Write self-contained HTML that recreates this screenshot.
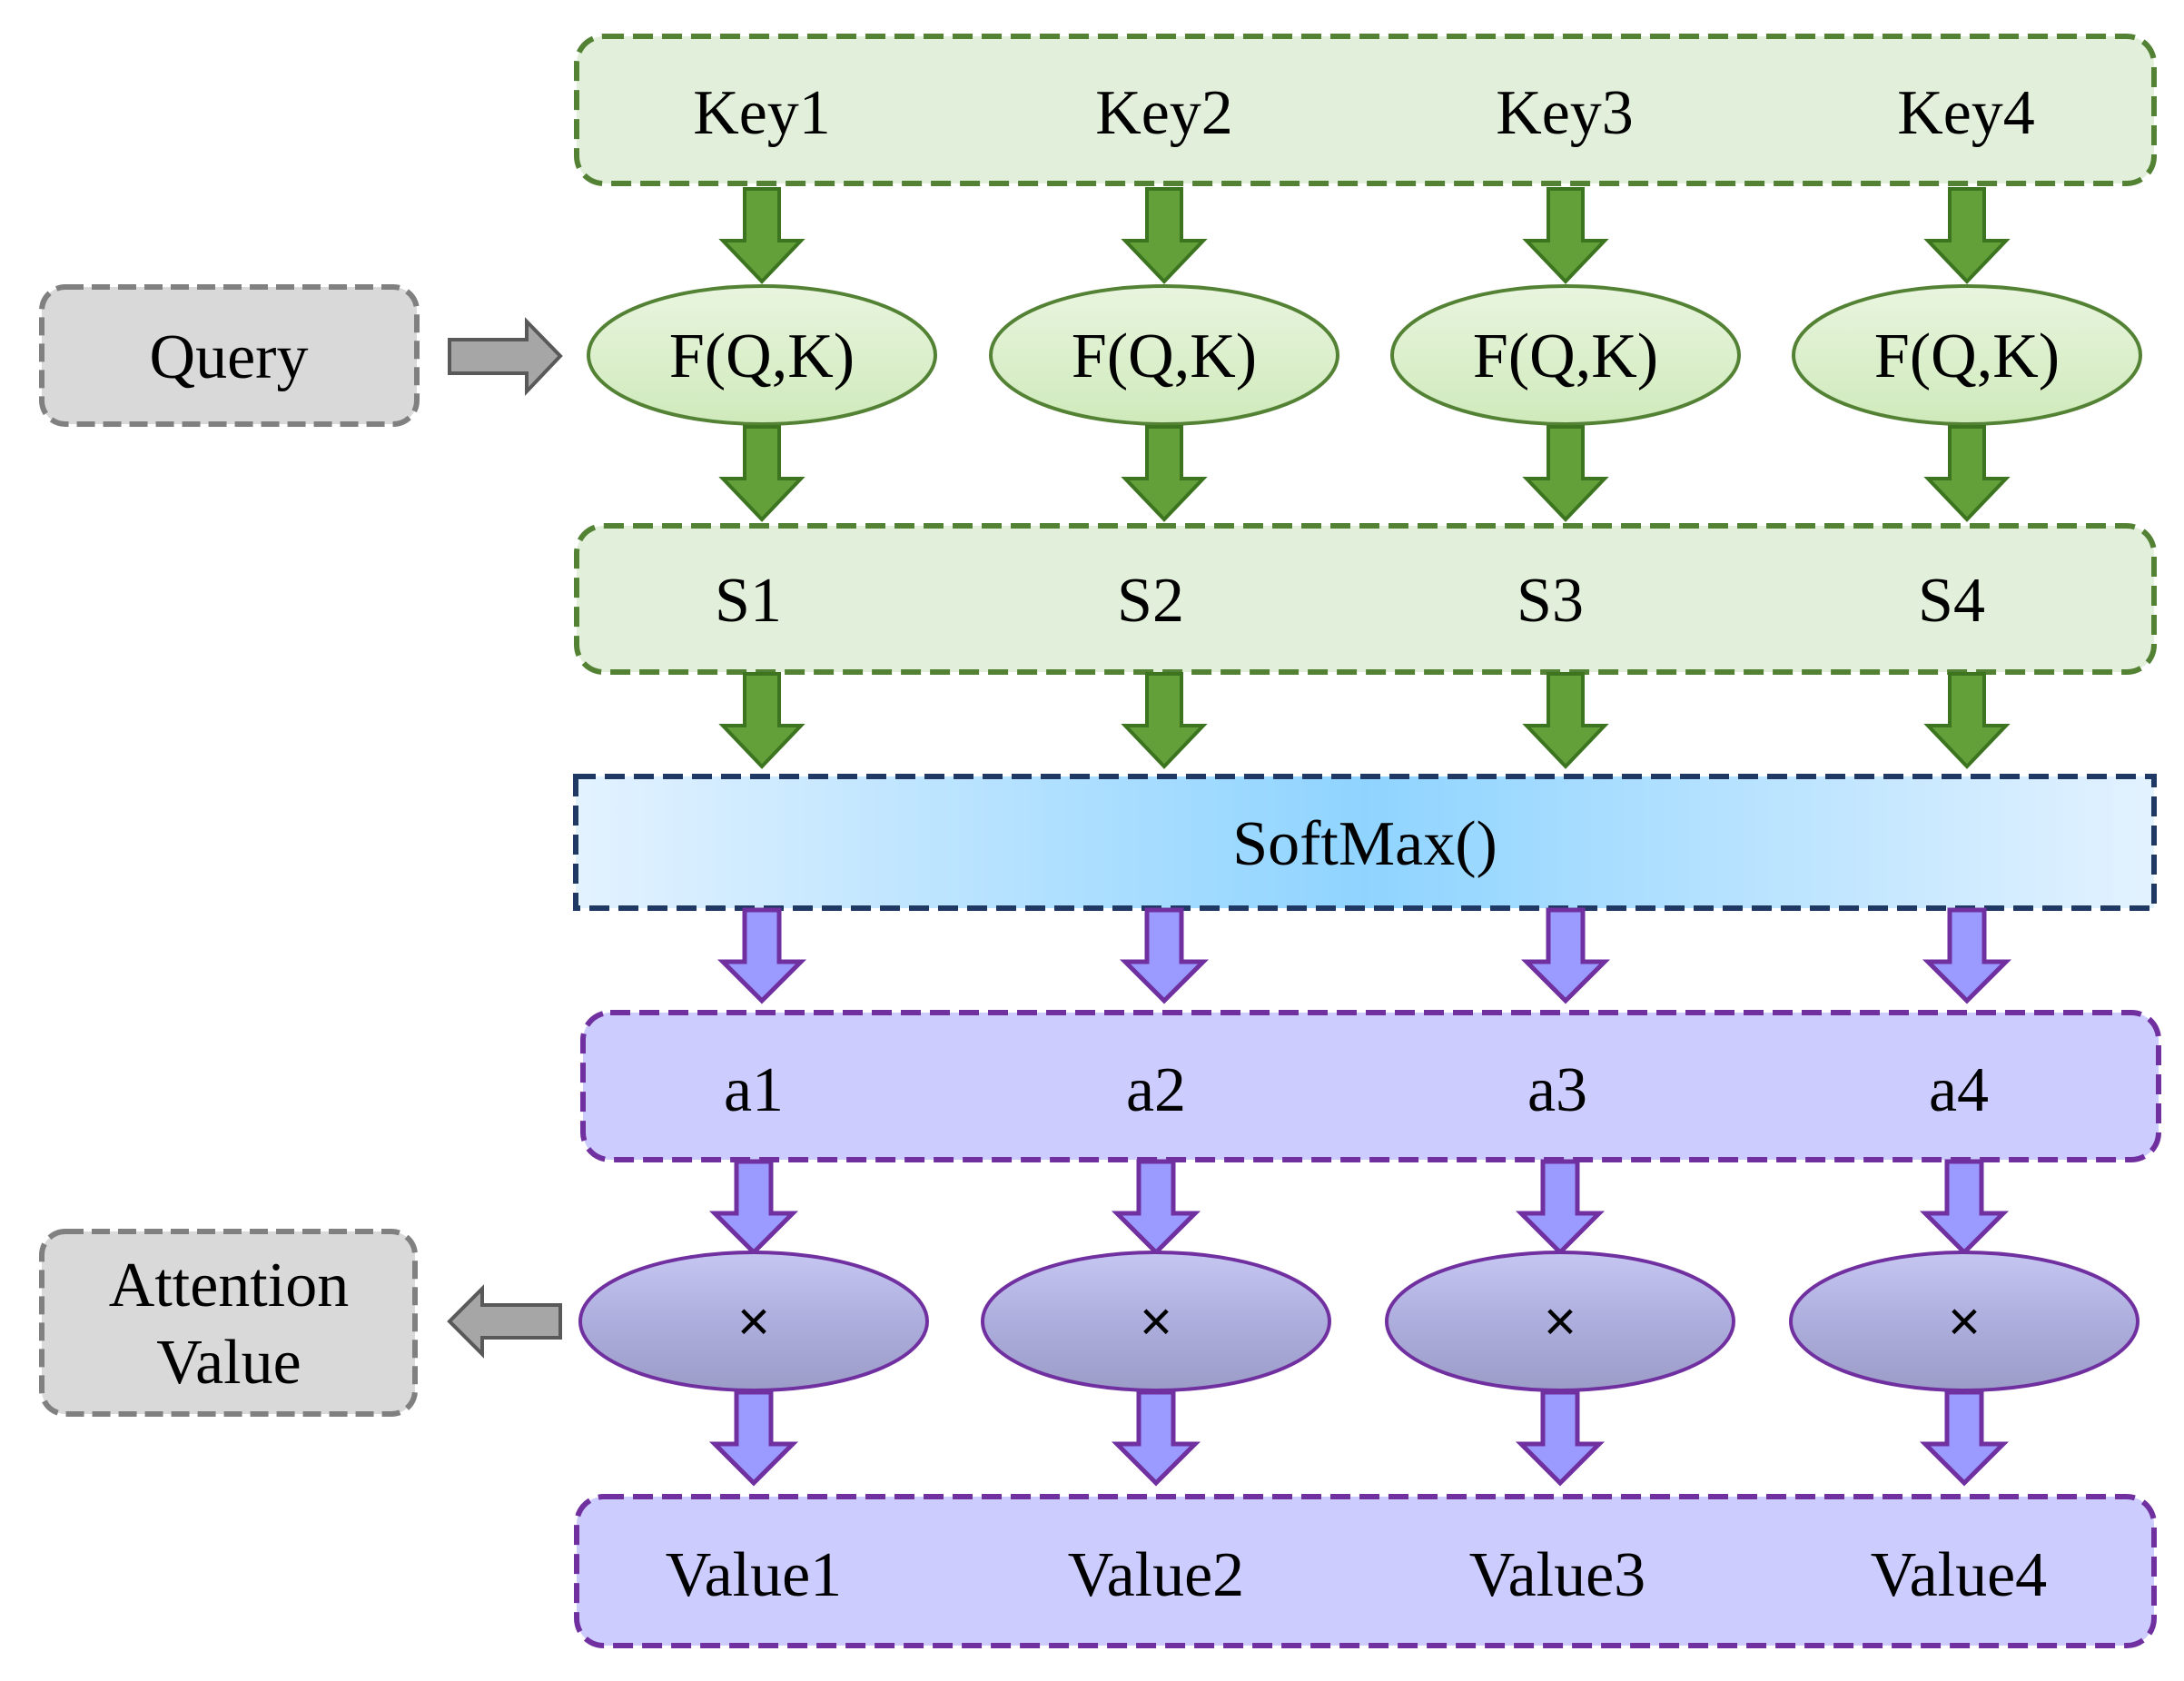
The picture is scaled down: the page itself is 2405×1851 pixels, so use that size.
<!DOCTYPE html>
<html><head><meta charset="utf-8"><style>html,body{margin:0;padding:0;background:#fff}svg{display:block}</style></head>
<body>
<svg width="2405" height="1851" viewBox="0 0 2405 1851" xmlns="http://www.w3.org/2000/svg" font-family="'Liberation Serif', serif" fill="#000">
<defs>
<linearGradient id="sm" x1="0" x2="1" y1="0" y2="0">
<stop offset="0" stop-color="#e3f2ff"/><stop offset="0.5" stop-color="#8fd4ff"/><stop offset="1" stop-color="#e3f2ff"/>
</linearGradient>
<linearGradient id="fe" x1="0" x2="0" y1="0" y2="1">
<stop offset="0" stop-color="#e9f5df"/><stop offset="1" stop-color="#cfeabb"/>
</linearGradient>
<linearGradient id="xe" x1="0" x2="0" y1="0" y2="1">
<stop offset="0" stop-color="#c6c6f2"/><stop offset="0.5" stop-color="#aeaede"/><stop offset="1" stop-color="#9c9cc8"/>
</linearGradient>
<g id="ga"><polygon points="-19,0 19,0 19,57 43,57 0,102 -43,57 -19,57" fill="#63a03a" stroke="#3c7420" stroke-width="4"/></g>
<g id="pa"><polygon points="-19,0 19,0 19,57 43,57 0,100 -43,57 -19,57" fill="#9a9aff" stroke="#7030a0" stroke-width="5"/></g>
</defs>

<rect x="635" y="40" width="1737" height="162" rx="30" fill="#e2efda" stroke="#548235" stroke-width="6" stroke-dasharray="22,10"/>
<g font-size="70" text-anchor="middle">
<text x="839" y="147">Key1</text><text x="1282" y="147">Key2</text><text x="1723" y="147">Key3</text><text x="2165" y="147">Key4</text>
</g>

<rect x="46" y="316" width="413" height="151" rx="26" fill="#d9d9d9" stroke="#808080" stroke-width="6" stroke-dasharray="20,9"/>
<text x="252" y="416" font-size="70" text-anchor="middle">Query</text>
<polygon points="495,374 580,374 580,354 617,392 580,431 580,411 495,411" fill="#a6a6a6" stroke="#595959" stroke-width="4"/>

<use href="#ga" x="839" y="208"/><use href="#ga" x="1282" y="208"/><use href="#ga" x="1724" y="208"/><use href="#ga" x="2166" y="208"/>

<g fill="url(#fe)" stroke="#548235" stroke-width="4">
<ellipse cx="839" cy="391" rx="191" ry="76"/><ellipse cx="1282" cy="391" rx="191" ry="76"/><ellipse cx="1724" cy="391" rx="191" ry="76"/><ellipse cx="2166" cy="391" rx="191" ry="76"/>
</g>
<g font-size="70" text-anchor="middle">
<text x="839" y="415">F(Q,K)</text><text x="1282" y="415">F(Q,K)</text><text x="1724" y="415">F(Q,K)</text><text x="2166" y="415">F(Q,K)</text>
</g>

<use href="#ga" x="839" y="470"/><use href="#ga" x="1282" y="470"/><use href="#ga" x="1724" y="470"/><use href="#ga" x="2166" y="470"/>

<rect x="635" y="579" width="1737" height="161" rx="30" fill="#e2efda" stroke="#548235" stroke-width="6" stroke-dasharray="22,10"/>
<g font-size="70" text-anchor="middle">
<text x="824" y="684">S1</text><text x="1267" y="684">S2</text><text x="1707" y="684">S3</text><text x="2149" y="684">S4</text>
</g>

<use href="#ga" x="839" y="742"/><use href="#ga" x="1282" y="742"/><use href="#ga" x="1724" y="742"/><use href="#ga" x="2166" y="742"/>

<rect x="634" y="855" width="1738" height="145" fill="url(#sm)" stroke="#1f3864" stroke-width="6" stroke-dasharray="22,10"/>
<text x="1503" y="952" font-size="70" text-anchor="middle">SoftMax()</text>

<use href="#pa" x="839" y="1002"/><use href="#pa" x="1282" y="1002"/><use href="#pa" x="1724" y="1002"/><use href="#pa" x="2166" y="1002"/>

<rect x="642" y="1115" width="1735" height="162" rx="30" fill="#ccccff" stroke="#7030a0" stroke-width="6" stroke-dasharray="22,10"/>
<g font-size="70" text-anchor="middle">
<text x="830" y="1223">a1</text><text x="1273" y="1223">a2</text><text x="1715" y="1223">a3</text><text x="2157" y="1223">a4</text>
</g>

<use href="#pa" x="830" y="1279"/><use href="#pa" x="1273" y="1279"/><use href="#pa" x="1718" y="1279"/><use href="#pa" x="2163" y="1279"/>

<g fill="url(#xe)" stroke="#7030a0" stroke-width="4">
<ellipse cx="830" cy="1455" rx="191" ry="76"/><ellipse cx="1273" cy="1455" rx="191" ry="76"/><ellipse cx="1718" cy="1455" rx="191" ry="76"/><ellipse cx="2163" cy="1455" rx="191" ry="76"/>
</g>
<g font-size="62" text-anchor="middle" font-family="'Liberation Sans', sans-serif">
<text x="830" y="1476">×</text><text x="1273" y="1476">×</text><text x="1718" y="1476">×</text><text x="2163" y="1476">×</text>
</g>

<use href="#pa" x="830" y="1533"/><use href="#pa" x="1273" y="1533"/><use href="#pa" x="1718" y="1533"/><use href="#pa" x="2163" y="1533"/>

<rect x="635" y="1648" width="1737" height="164" rx="30" fill="#ccccff" stroke="#7030a0" stroke-width="6" stroke-dasharray="22,10"/>
<g font-size="70" text-anchor="middle">
<text x="830" y="1757">Value1</text><text x="1273" y="1757">Value2</text><text x="1715" y="1757">Value3</text><text x="2157" y="1757">Value4</text>
</g>

<rect x="46" y="1356" width="411" height="201" rx="26" fill="#d9d9d9" stroke="#808080" stroke-width="6" stroke-dasharray="20,9"/>
<g font-size="70" text-anchor="middle">
<text x="252" y="1438">Attention</text><text x="252" y="1523">Value</text>
</g>
<polygon points="617,1437 531,1437 531,1419 495,1455 531,1491 531,1473 617,1473" fill="#a6a6a6" stroke="#595959" stroke-width="4"/>
</svg>
</body></html>
